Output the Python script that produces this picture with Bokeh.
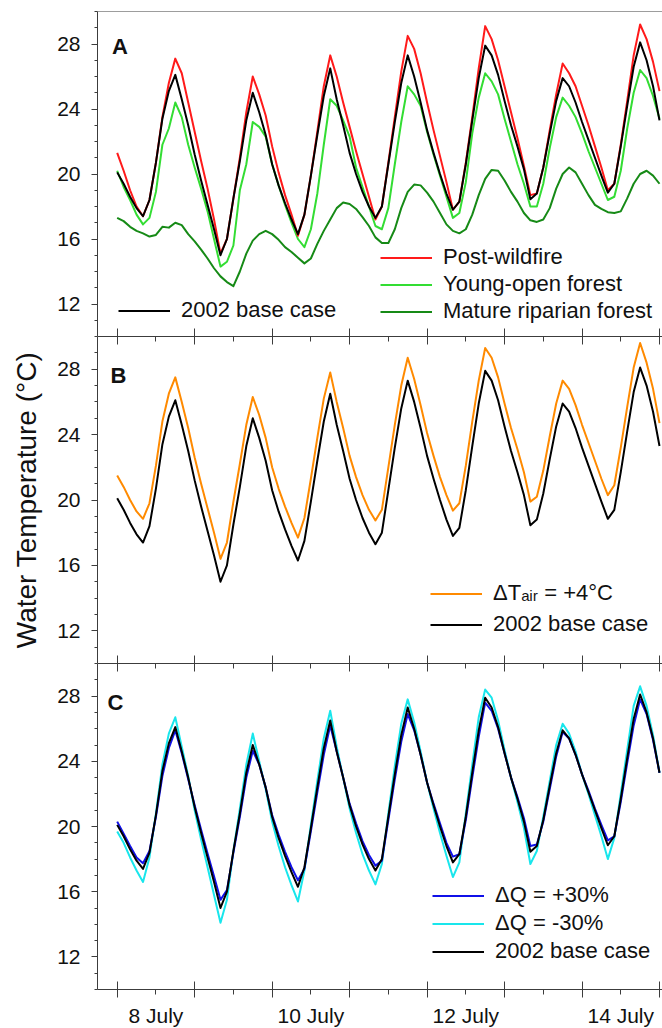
from bokeh.plotting import figure
from bokeh.layouts import column
from bokeh.models import Range1d, FixedTicker, LinearAxis, Legend, LegendItem, Label, Span
from bokeh.embed import file_html
from bokeh.resources import INLINE

# time axis: hours after 8 July 00:00
hours = list(range(0, 169, 2))

base_2002 = [20.1, 19.4, 18.6, 17.9, 17.4, 18.4, 20.7, 23.4, 25.1, 26.1,
             24.6, 23.0, 21.2, 19.6, 18.1, 16.6, 15.0,
             16.0, 18.5, 20.8, 23.3, 25.0,
             23.8, 22.4, 20.6, 19.3, 18.2, 17.2, 16.3,
             17.5, 19.9, 22.4, 24.8, 26.5,
             24.6, 23.0, 21.3, 20.0, 18.9, 18.0, 17.3,
             18.0, 20.6, 23.2, 25.6, 27.3,
             26.0, 24.4, 22.7, 21.3, 20.0, 18.8, 17.8,
             18.3, 20.6, 23.3, 25.9, 27.9,
             27.3, 26.1, 24.5, 23.0, 21.7, 20.3, 18.45,
             18.8, 20.4, 22.5, 24.5, 25.9,
             25.4, 24.4, 23.2, 22.1, 21.0, 19.9, 18.85,
             19.4, 21.7, 24.2, 26.6, 28.1,
             27.0, 25.4, 23.3]

post_wildfire = [21.3, 20.2, 19.0, 18.0, 17.4, 18.4, 20.7, 23.5, 25.6, 27.1,
                 26.2, 24.4, 22.6, 20.8, 19.1, 17.2, 15.1,
                 16.0, 18.5, 21.0, 23.8, 26.0,
                 24.9, 23.6, 21.7, 20.1, 18.7, 17.5, 16.2,
                 17.5, 19.9, 22.6, 25.4, 27.3,
                 26.0, 24.4, 22.9, 21.4, 20.0, 18.6, 17.2,
                 18.0, 20.7, 23.5, 26.3, 28.5,
                 27.7, 26.2, 24.4, 22.7, 21.1, 19.5, 17.8,
                 18.3, 20.7, 23.5, 26.5, 29.1,
                 28.3, 27.0, 25.4, 23.8, 22.2, 20.5, 18.7,
                 18.8, 20.4, 22.7, 24.9, 26.8,
                 26.2, 25.4, 24.2, 23.0, 21.7, 20.4, 19.0,
                 19.4, 21.8, 24.5, 27.3, 29.2,
                 28.3, 26.9, 25.1]

young_open = [20.2, 19.2, 18.4, 17.5, 16.9, 17.3, 18.9, 21.8, 22.8, 24.4,
              23.5, 21.8, 20.4, 19.1, 17.7, 16.0, 14.3,
              14.6, 15.6, 19.0, 20.6, 23.2,
              22.9, 22.3, 20.6, 19.3, 18.1, 17.0, 16.0,
              15.5, 16.6, 18.8, 21.8, 24.6,
              24.2, 23.3, 22.3, 20.4, 19.2, 18.0, 16.8,
              16.6, 17.9, 20.6, 23.2, 25.4,
              24.9, 24.2, 22.6, 21.2, 19.9, 18.6, 17.3,
              17.6, 19.5, 22.5, 24.7, 26.2,
              25.7, 24.9, 23.4, 22.0, 20.6, 19.4, 18.0,
              18.0, 19.4, 21.6, 23.5, 24.7,
              24.2, 23.5, 22.5, 21.4, 20.4, 19.4, 18.4,
              18.6, 20.2, 22.8, 25.0, 26.4,
              25.9, 24.8, 23.4]

mature_riparian = [17.3, 17.1, 16.75, 16.5, 16.35, 16.15, 16.25, 16.75, 16.7, 17.0,
                   16.85, 16.3, 15.85, 15.35, 14.8, 14.2, 13.7,
                   13.35, 13.1, 14.0, 15.1, 15.9,
                   16.3, 16.5, 16.3, 15.95, 15.5, 15.2, 14.85,
                   14.5, 14.8, 15.7, 16.5, 17.2,
                   17.9, 18.25, 18.15, 17.85, 17.35, 16.8, 16.1,
                   15.75, 15.75, 16.6, 17.9, 18.9,
                   19.35, 19.3, 18.85, 18.3, 17.6, 16.9, 16.5,
                   16.35, 16.6, 17.5, 18.7, 19.7,
                   20.25, 20.2, 19.6, 18.9, 18.3, 17.6, 17.15,
                   17.05, 17.2, 17.9, 19.1, 20.0,
                   20.4, 20.1, 19.4, 18.7, 18.1, 17.85, 17.65,
                   17.6, 17.7, 18.5, 19.4, 20.0,
                   20.2, 19.9, 19.4]

air_plus4 = [21.5, 20.8, 20.0, 19.3, 18.85, 19.8, 22.1, 24.8, 26.5, 27.5,
             26.0, 24.4, 22.6, 21.0, 19.5, 18.0, 16.4,
             17.4, 19.9, 22.2, 24.6, 26.3,
             25.2, 23.8, 22.0, 20.7, 19.6, 18.6, 17.7,
             18.9, 21.3, 23.8, 26.2, 27.8,
             26.0, 24.4, 22.7, 21.4, 20.3, 19.4, 18.75,
             19.4, 22.0, 24.6, 27.0, 28.7,
             27.4, 25.8, 24.1, 22.7, 21.4, 20.3, 19.35,
             19.8, 22.1, 24.8, 27.3, 29.3,
             28.7, 27.5, 25.9, 24.4, 23.1, 21.7, 19.9,
             20.2, 21.8, 23.9, 25.9, 27.3,
             26.8, 25.8, 24.6, 23.5, 22.4, 21.3, 20.3,
             20.9, 23.2, 25.7, 28.1, 29.6,
             28.4, 26.8, 24.7]

flow_plus30 = [20.3, 19.55, 18.8, 18.1, 17.75, 18.5, 20.6, 23.1, 24.8, 25.9,
               24.5, 22.9, 21.3, 19.8, 18.35, 16.95, 15.5,
               16.1, 18.4, 20.6, 23.0, 24.65,
               23.8, 22.4, 20.7, 19.5, 18.45, 17.5, 16.7,
               17.4, 19.7, 22.1, 24.4, 26.2,
               24.6, 23.0, 21.4, 20.2, 19.1, 18.25, 17.6,
               17.9, 20.4, 22.9, 25.2, 26.9,
               25.9, 24.4, 22.7, 21.4, 20.2, 19.0, 18.15,
               18.3, 20.4, 23.0, 25.5, 27.6,
               27.1, 26.0, 24.5, 23.0, 21.8, 20.5, 18.8,
               18.9, 20.3, 22.3, 24.3, 25.8,
               25.4, 24.4, 23.2, 22.2, 21.1, 20.1, 19.15,
               19.4, 21.5, 23.9, 26.2, 27.8,
               26.9, 25.3, 23.3]

flow_minus30 = [19.7, 19.0, 18.1, 17.3, 16.6, 18.1, 20.8, 23.8, 25.7, 26.7,
                24.9, 23.1, 21.0, 19.2, 17.5, 15.8, 14.1,
                15.5, 18.5, 21.1, 23.8, 25.7,
                24.0, 22.3, 20.3, 18.8, 17.5, 16.4, 15.4,
                17.3, 20.1, 22.8, 25.4, 27.1,
                24.9, 23.0, 21.1, 19.6, 18.3, 17.3, 16.45,
                17.7, 20.8, 23.7, 26.3, 27.8,
                26.4, 24.6, 22.7, 21.1, 19.6, 18.2, 16.9,
                17.8, 20.8, 23.8, 26.7, 28.4,
                27.9, 26.5, 24.7, 23.0, 21.5, 19.9, 17.7,
                18.5, 20.6, 22.8, 25.0, 26.3,
                25.7, 24.6, 23.2, 22.0, 20.7, 19.4, 18.0,
                19.3, 22.0, 24.7, 27.4, 28.6,
                27.4, 25.6, 23.3]

midnights = [0, 24, 48, 72, 96, 120, 144, 168]
noons = [12, 36, 60, 84, 108, 132, 156]
noon_labels = ["8 July", "", "10 July", "", "12 July", "", "14 July"]
y_major = [12, 16, 20, 24, 28]
y_minor = list(range(10, 31))

FONT = "Liberation Sans"
AX = "#3c3c3c"
TXT = "#111111"
LW = 2

C_BASE = "#000000"
C_RED = "#ff1a1a"
C_YOUNG = "#33dd33"
C_MATURE = "#168a16"
C_ORANGE = "#ff8a00"
C_BLUE = "#1010e8"
C_CYAN = "#19e6ec"


def make_fig(height, top, bottom):
    p = figure(width=662, height=height,
               x_range=Range1d(-6.1, 168.93), y_range=Range1d(10, 30),
               output_backend="svg", toolbar_location=None,
               min_border_left=97, min_border_right=0,
               min_border_top=top, min_border_bottom=bottom)
    p.outline_line_color = None
    p.grid.visible = False
    p.background_fill_color = "white"
    p.border_fill_color = "white"
    ya = p.left[0]
    ya.ticker = FixedTicker(ticks=y_major, minor_ticks=y_minor)
    ya.axis_line_color = AX
    ya.major_tick_line_color = AX
    ya.minor_tick_line_color = AX
    ya.major_tick_in = 0
    ya.major_tick_out = 6
    ya.minor_tick_in = 0
    ya.minor_tick_out = 3
    ya.major_label_standoff = 11
    ya.major_label_text_font = FONT
    ya.major_label_text_font_size = "21px"
    ya.major_label_text_color = TXT
    return p


def plain_bottom(p):
    # day ticks only (no labels): drawn as minor ticks pointing into the panel
    xa = p.below[0]
    xa.ticker = FixedTicker(ticks=[], minor_ticks=midnights)
    xa.axis_line_color = AX
    xa.minor_tick_line_color = AX
    xa.major_tick_in = 0
    xa.major_tick_out = 0
    xa.minor_tick_in = 8
    xa.minor_tick_out = 0
    xa.major_label_standoff = 0


def add_top(p):
    t1 = LinearAxis(ticker=FixedTicker(ticks=[], minor_ticks=midnights),
                    axis_line_color=AX, minor_tick_line_color=AX,
                    major_tick_in=0, major_tick_out=0, minor_tick_in=8, minor_tick_out=0,
                    major_label_standoff=0)
    t2 = LinearAxis(ticker=FixedTicker(ticks=[], minor_ticks=noons),
                    axis_line_color=None, minor_tick_line_color=AX,
                    major_tick_in=0, major_tick_out=0, minor_tick_in=5, minor_tick_out=0,
                    major_label_standoff=0)
    p.add_layout(t1, "above")
    p.add_layout(t2, "above")


def legend(p, items, loc, spacing):
    lg = Legend(items=[LegendItem(label=t, renderers=[r]) for t, r in items],
                location=loc, orientation="vertical")
    lg.glyph_width = 52
    lg.glyph_height = 25
    lg.label_height = 25
    lg.label_standoff = 11
    lg.spacing = spacing
    lg.padding = 0
    lg.margin = 0
    lg.border_line_color = None
    lg.background_fill_alpha = 0
    lg.label_text_font = FONT
    lg.label_text_font_size = "22px"
    lg.label_text_color = TXT
    p.add_layout(lg, "center")


def letter(p, text, x, y):
    p.add_layout(Label(x=x, y=y, x_units="screen", y_units="screen", text=text,
                       text_font=FONT, text_font_style="bold", text_font_size="22px",
                       text_color=TXT, text_baseline="alphabetic"))


# ---------------- Panel A ----------------
pa = make_fig(336, 11, 0)
plain_bottom(pa)
pa.add_layout(Span(location=30, dimension="width", line_color=AX, line_width=1))
r_mat = pa.line(hours, mature_riparian, line_color=C_MATURE, line_width=LW, line_join="round")
r_yng = pa.line(hours, young_open, line_color=C_YOUNG, line_width=LW, line_join="round")
r_red = pa.line(hours, post_wildfire, line_color=C_RED, line_width=LW, line_join="round")
r_bA = pa.line(hours, base_2002, line_color=C_BASE, line_width=LW, line_join="round")
legend(pa, [("Post-wildfire", r_red), ("Young-open forest", r_yng),
            ("Mature riparian forest", r_mat)], (283, 12), 1)
legend(pa, [("2002 base case", r_bA)], (21, 13), 0)
letter(pa, "A", 14.5, 290)

# ---------------- Panel B ----------------
pb = make_fig(327, 0, 0)
plain_bottom(pb)
add_top(pb)
r_or = pb.line(hours, air_plus4, line_color=C_ORANGE, line_width=LW, line_join="round")
r_bB = pb.line(hours, base_2002, line_color=C_BASE, line_width=LW, line_join="round")
yb = pb.left[0]
yb.axis_label = "Water Temperature (\u00b0C)"
yb.axis_label_text_font = FONT
yb.axis_label_text_font_size = "28px"
yb.axis_label_text_font_style = "normal"
yb.axis_label_text_color = TXT
yb.axis_label_standoff = 12
legend(pb, [("\u0394T\u2090\u1d62\u1d63 = +4\u00b0C", r_or), ("2002 base case", r_bB)], (333, 26), 5)
letter(pb, "B", 13, 288)

# ---------------- Panel C ----------------
pc = make_fig(368, 0, 42)
add_top(pc)
xc = pc.below[0]
xc.ticker = FixedTicker(ticks=noons, minor_ticks=midnights)
xc.axis_line_color = AX
xc.major_tick_line_color = AX
xc.minor_tick_line_color = AX
xc.major_tick_in = 0
xc.major_tick_out = 5
xc.minor_tick_in = 8
xc.minor_tick_out = 8
xc.major_label_overrides = {t: s for t, s in zip(noons, noon_labels)}
xc.major_label_standoff = 6
xc.major_label_text_font = FONT
xc.major_label_text_font_size = "21px"
xc.major_label_text_color = TXT
r_cy = pc.line(hours, flow_minus30, line_color=C_CYAN, line_width=LW, line_join="round")
r_bl = pc.line(hours, flow_plus30, line_color=C_BLUE, line_width=LW, line_join="round")
r_bC = pc.line(hours, base_2002, line_color=C_BASE, line_width=LW, line_join="round")
legend(pc, [("\u0394Q = +30%", r_bl), ("\u0394Q = -30%", r_cy), ("2002 base case", r_bC)],
       (335, 25), 2)
letter(pc, "C", 10, 287)

layout = column(pa, pb, pc, spacing=0)
open("out.html", "w").write(file_html(layout, INLINE))
